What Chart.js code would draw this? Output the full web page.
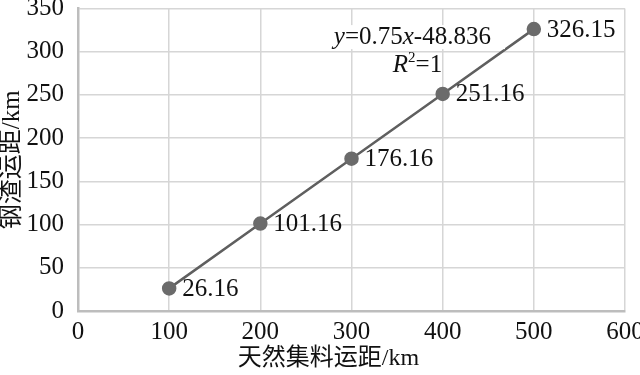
<!DOCTYPE html>
<html>
<head>
<meta charset="utf-8">
<script src="https://cdn.jsdelivr.net/npm/chart.js@4.4.0/dist/chart.umd.min.js"></script>
<style>
  html, body { margin: 0; padding: 0; background: #fff; }
</style>
</head>
<body>
<canvas id="myChart" width="640" height="375"></canvas>
<script>
const haulNatural = [100, 200, 300, 400, 500];
const haulSlag = [26.16, 101.16, 176.16, 251.16, 326.15];
const pointLabels = ['26.16', '101.16', '176.16', '251.16', '326.15'];
const xTitle = '天然集料运距/km';
const yTitle = '钢渣运距/km';

const serif = '"Liberation Serif", "DejaVu Serif", serif';
const cjk = '"Liberation Serif", "Noto Sans CJK SC", serif';
const FS = 25;

const labelPlugin = {
  id: 'labels',
  afterDatasetsDraw(chart) {
    const ctx = chart.ctx;
    const meta = chart.getDatasetMeta(0);
    const area = chart.chartArea;
    ctx.save();
    ctx.font = FS + 'px ' + serif;
    ctx.fillStyle = '#111';
    ctx.textBaseline = 'middle';
    ctx.textAlign = 'left';
    meta.data.forEach((pt, i) => {
      ctx.fillText(pointLabels[i], pt.x + 13, pt.y + 1);
    });

    // trendline equation
    const last = meta.data[meta.data.length - 1];
    const ex = last.x - 200, ey = last.y + 15;
    const parts = [['y', true], ['=0.75', false], ['x', true], ['-48.836', false]];
    let w = 0;
    parts.forEach(p => {
      ctx.font = (p[1] ? 'italic ' : '') + FS + 'px ' + serif;
      w += ctx.measureText(p[0]).width;
    });
    ctx.fillStyle = '#fff';
    ctx.fillRect(ex - 2, ey - 19, w + 16, 24);
    ctx.fillStyle = '#111';
    ctx.textBaseline = 'alphabetic';
    let cx = ex;
    parts.forEach(p => {
      ctx.font = (p[1] ? 'italic ' : '') + FS + 'px ' + serif;
      ctx.fillText(p[0], cx, ey);
      cx += ctx.measureText(p[0]).width;
    });
    // R^2 = 1
    let rx = ex + 59, ry = ey + 28;
    ctx.font = 'italic ' + FS + 'px ' + serif;
    ctx.fillText('R', rx, ry);
    rx += ctx.measureText('R').width;
    ctx.font = '15px ' + serif;
    ctx.fillText('2', rx, ry - 10);
    rx += ctx.measureText('2').width;
    ctx.font = FS + 'px ' + serif;
    ctx.fillText('=1', rx, ry);

    // axis titles
    ctx.textAlign = 'center';
    ctx.textBaseline = 'middle';
    ctx.font = '24px ' + cjk;
    ctx.fillText(xTitle, area.left + (area.right - area.left) * 0.458, 359);
    ctx.translate(12, (area.top + area.bottom) / 2);
    ctx.rotate(-Math.PI / 2);
    ctx.font = FS + 'px ' + cjk;
    ctx.fillText(yTitle, 0, 0);
    ctx.restore();
  }
};

new Chart(document.getElementById('myChart'), {
  type: 'scatter',
  data: {
    datasets: [{
      data: haulNatural.map((x, i) => ({ x: x, y: haulSlag[i] })),
      showLine: true,
      borderColor: '#5f5f5f',
      borderWidth: 2.5,
      backgroundColor: '#6b6b6b',
      pointBackgroundColor: '#6b6b6b',
      pointBorderColor: '#6b6b6b',
      pointRadius: 6,
      pointHoverRadius: 6
    }]
  },
  options: {
    responsive: false,
    animation: false,
    maintainAspectRatio: false,
    layout: { padding: { top: 8, right: 15, left: 0, bottom: 0 } },
    plugins: {
      legend: { display: false },
      tooltip: { enabled: false }
    },
    scales: {
      x: {
        type: 'linear',
        min: 0,
        max: 600,
        ticks: { stepSize: 100, color: '#111', font: { family: serif, size: FS }, padding: 6, maxRotation: 0 },
        grid: { color: '#d6d6d6', lineWidth: 1.5, drawTicks: false },
        border: { color: '#bdbdbd', width: 2.5 },
        afterFit(scale) { scale.height = 64; scale.paddingRight = 0; scale.paddingLeft = 0; }
      },
      y: {
        min: 0,
        max: 350,
        ticks: { stepSize: 50, color: '#111', font: { family: serif, size: FS }, padding: 14 },
        grid: { color: '#d6d6d6', lineWidth: 1.5, drawTicks: false },
        border: { color: '#bdbdbd', width: 2.5 },
        afterFit(scale) { scale.width = 78; scale.paddingTop = 0; scale.paddingBottom = 0; }
      }
    }
  },
  plugins: [labelPlugin]
});
</script>
</body>
</html>
